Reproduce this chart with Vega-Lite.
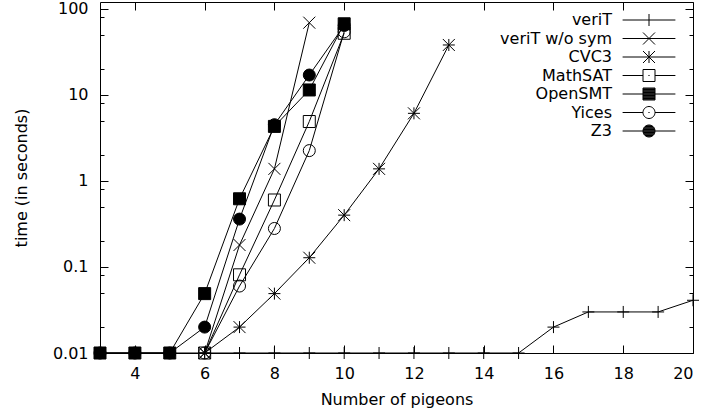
{
  "$schema": "https://vega.github.io/schema/vega-lite/v6.json",
  "width": 593,
  "height": 351,
  "autosize": {"type": "none"},
  "padding": {"left": 100, "top": 2, "right": 12, "bottom": 61},
  "background": "white",
  "data": {
    "values": [
      {"solver": "veriT", "n": 3, "t": 0.01},
      {"solver": "veriT", "n": 4, "t": 0.01},
      {"solver": "veriT", "n": 5, "t": 0.01},
      {"solver": "veriT", "n": 6, "t": 0.01},
      {"solver": "veriT", "n": 7, "t": 0.01},
      {"solver": "veriT", "n": 8, "t": 0.01},
      {"solver": "veriT", "n": 9, "t": 0.01},
      {"solver": "veriT", "n": 10, "t": 0.01},
      {"solver": "veriT", "n": 11, "t": 0.01},
      {"solver": "veriT", "n": 12, "t": 0.01},
      {"solver": "veriT", "n": 13, "t": 0.01},
      {"solver": "veriT", "n": 14, "t": 0.01},
      {"solver": "veriT", "n": 15, "t": 0.01},
      {"solver": "veriT", "n": 16, "t": 0.02},
      {"solver": "veriT", "n": 17, "t": 0.03},
      {"solver": "veriT", "n": 18, "t": 0.03},
      {"solver": "veriT", "n": 19, "t": 0.03},
      {"solver": "veriT", "n": 20, "t": 0.041},
      {"solver": "veriT w/o sym", "n": 6, "t": 0.01},
      {"solver": "veriT w/o sym", "n": 7, "t": 0.18},
      {"solver": "veriT w/o sym", "n": 8, "t": 1.38},
      {"solver": "veriT w/o sym", "n": 9, "t": 69},
      {"solver": "CVC3", "n": 6, "t": 0.01},
      {"solver": "CVC3", "n": 7, "t": 0.02},
      {"solver": "CVC3", "n": 8, "t": 0.049},
      {"solver": "CVC3", "n": 9, "t": 0.128},
      {"solver": "CVC3", "n": 10, "t": 0.4},
      {"solver": "CVC3", "n": 11, "t": 1.38},
      {"solver": "CVC3", "n": 12, "t": 6.1},
      {"solver": "CVC3", "n": 13, "t": 38},
      {"solver": "MathSAT", "n": 6, "t": 0.01},
      {"solver": "MathSAT", "n": 7, "t": 0.081},
      {"solver": "MathSAT", "n": 8, "t": 0.6},
      {"solver": "MathSAT", "n": 9, "t": 4.9},
      {"solver": "MathSAT", "n": 10, "t": 52},
      {"solver": "OpenSMT", "n": 3, "t": 0.01},
      {"solver": "OpenSMT", "n": 4, "t": 0.01},
      {"solver": "OpenSMT", "n": 5, "t": 0.01},
      {"solver": "OpenSMT", "n": 6, "t": 0.049},
      {"solver": "OpenSMT", "n": 7, "t": 0.62},
      {"solver": "OpenSMT", "n": 8, "t": 4.3},
      {"solver": "OpenSMT", "n": 9, "t": 11.4},
      {"solver": "OpenSMT", "n": 10, "t": 67},
      {"solver": "Yices", "n": 6, "t": 0.01},
      {"solver": "Yices", "n": 7, "t": 0.06},
      {"solver": "Yices", "n": 8, "t": 0.28},
      {"solver": "Yices", "n": 9, "t": 2.25},
      {"solver": "Yices", "n": 10, "t": 54},
      {"solver": "Z3", "n": 3, "t": 0.01},
      {"solver": "Z3", "n": 4, "t": 0.01},
      {"solver": "Z3", "n": 5, "t": 0.01},
      {"solver": "Z3", "n": 6, "t": 0.02},
      {"solver": "Z3", "n": 7, "t": 0.36},
      {"solver": "Z3", "n": 8, "t": 4.5},
      {"solver": "Z3", "n": 9, "t": 17},
      {"solver": "Z3", "n": 10, "t": 64}
    ]
  },
  "layer": [
    {
      "mark": {"type": "line", "stroke": "black", "strokeWidth": 1},
      "encoding": {
        "x": {
          "field": "n", "type": "quantitative",
          "scale": {"domain": [3, 20], "nice": false, "zero": false},
          "axis": {"orient": "bottom", "values": [4, 6, 8, 10, 12, 14, 16, 18, 20], "tickSize": -8, "labelPadding": 20, "title": "Number of pigeons", "titlePadding": 10}
        },
        "y": {
          "field": "t", "type": "quantitative",
          "scale": {"type": "log", "domain": [0.01, 120], "nice": false},
          "axis": {"orient": "left", "values": [0.01, 0.1, 1, 10, 100], "format": "~g", "tickSize": -8, "labelPadding": 20, "title": "time (in seconds)", "titlePadding": 23}
        },
        "detail": {"field": "solver"},
        "order": {"field": "n", "type": "quantitative"}
      }
    },
    {
      "mark": {"type": "point", "size": 144, "stroke": "black", "strokeWidth": 1, "opacity": 1},
      "encoding": {
        "x": {
          "field": "n", "type": "quantitative",
          "axis": {"orient": "top", "values": [4, 6, 8, 10, 12, 14, 16, 18, 20], "tickSize": -8, "labels": false, "title": null}
        },
        "y": {
          "field": "t", "type": "quantitative",
          "axis": {"orient": "right", "values": [0.01, 0.1, 1, 10, 100], "tickSize": -8, "labels": false, "title": null}
        },
        "shape": {
          "field": "solver", "type": "nominal",
          "scale": {
            "domain": ["veriT", "veriT w/o sym", "CVC3", "MathSAT", "OpenSMT", "Yices", "Z3"],
            "range": ["M-1,0H1M0,-1V1", "M-1,-1L1,1M-1,1L1,-1", "M-1,0H1M0,-1V1M-1,-1L1,1M-1,1L1,-1", "M-1,-1H1V1H-1Z", "M-1,-1H1V1H-1Z", "circle", "circle"]
          },
          "legend": null
        },
        "fill": {
          "field": "solver", "type": "nominal",
          "scale": {
            "domain": ["veriT", "veriT w/o sym", "CVC3", "MathSAT", "OpenSMT", "Yices", "Z3"],
            "range": ["transparent", "transparent", "transparent", "transparent", "black", "transparent", "black"]
          },
          "legend": null
        }
      }
    },
    {
      "transform": [{"filter": "datum.n < 0"}],
      "mark": {"type": "point", "size": 144, "stroke": "black", "fill": "transparent", "strokeWidth": 1, "opacity": 1},
      "encoding": {
        "x": {"field": "n", "type": "quantitative", "axis": null},
        "y": {"field": "t", "type": "quantitative", "axis": null},
        "shape": {
          "field": "solver", "type": "nominal",
          "scale": {
            "domain": ["veriT", "veriT w/o sym", "CVC3", "MathSAT", "OpenSMT", "Yices", "Z3"],
            "range": [
              "M-4.4,0H4.4M0,-1V1",
              "M-4.4,0H4.4M-1,-1L1,1M-1,1L1,-1",
              "M-4.4,0H4.4M0,-1V1M-1,-1L1,1M-1,1L1,-1",
              "M-4.4,0H-1M1,0H4.4M-1,-1H1V1H-1ZM-0.1,0H0.1",
              "M-4.4,0H4.4M-1,-1H1V1H-1ZM-1,-0.875H1M-1,-0.75H1M-1,-0.625H1M-1,-0.5H1M-1,-0.375H1M-1,-0.25H1M-1,-0.125H1M-1,0.125H1M-1,0.25H1M-1,0.375H1M-1,0.5H1M-1,0.625H1M-1,0.75H1M-1,0.875H1",
              "M-4.4,0H-1M1,0H4.4M1,0A1,1,0,1,1,-1,0A1,1,0,1,1,1,0M-0.1,0H0.1",
              "M-4.4,0H4.4M1,0A1,1,0,1,1,-1,0A1,1,0,1,1,1,0M-0.99,-0.125H0.99M-0.99,0.125H0.99M-0.97,-0.25H0.97M-0.97,0.25H0.97M-0.93,-0.375H0.93M-0.93,0.375H0.93M-0.87,-0.5H0.87M-0.87,0.5H0.87M-0.78,-0.625H0.78M-0.78,0.625H0.78M-0.66,-0.75H0.66M-0.66,0.75H0.66M-0.48,-0.875H0.48M-0.48,0.875H0.48"
            ]
          },
          "legend": {
            "orient": "none", "legendX": 541, "legendY": 10, "title": null, "padding": 0,
            "labelFontSize": 16, "labelFont": "DejaVu Sans", "labelColor": "black", "labelLimit": 0,
            "labelAlign": "right", "labelOffset": -45,
            "rowPadding": 2.5, "symbolSize": 144, "symbolStrokeWidth": 1,
            "symbolStrokeColor": "black", "symbolFillColor": "transparent"
          }
        }
      }
    },
    {
      "mark": {"type": "point", "opacity": 0},
      "encoding": {
        "x": {"field": "n", "type": "quantitative", "axis": null},
        "y": {
          "field": "t", "type": "quantitative",
          "axis": {"orient": "left", "values": [0.02, 0.05, 0.08, 0.2, 0.5, 0.8, 2, 5, 8, 20, 50, 80], "tickSize": -4, "labels": false, "title": null}
        }
      }
    },
    {
      "mark": {"type": "point", "opacity": 0},
      "encoding": {
        "x": {"field": "n", "type": "quantitative", "axis": null},
        "y": {
          "field": "t", "type": "quantitative",
          "axis": {"orient": "right", "values": [0.02, 0.05, 0.08, 0.2, 0.5, 0.8, 2, 5, 8, 20, 50, 80], "tickSize": -4, "labels": false, "title": null}
        }
      }
    }
  ],
  "resolve": {
    "axis": {"x": "independent", "y": "independent"},
    "scale": {"shape": "independent"}
  },
  "config": {
    "font": "DejaVu Sans",
    "view": {"stroke": "black", "strokeWidth": 1},
    "axis": {
      "domain": false, "grid": false, "tickColor": "black", "tickWidth": 1,
      "labelColor": "black", "titleColor": "black", "labelFont": "DejaVu Sans", "titleFont": "DejaVu Sans",
      "labelFontSize": 16, "titleFontSize": 16, "titleFontWeight": "normal"
    }
  }
}
